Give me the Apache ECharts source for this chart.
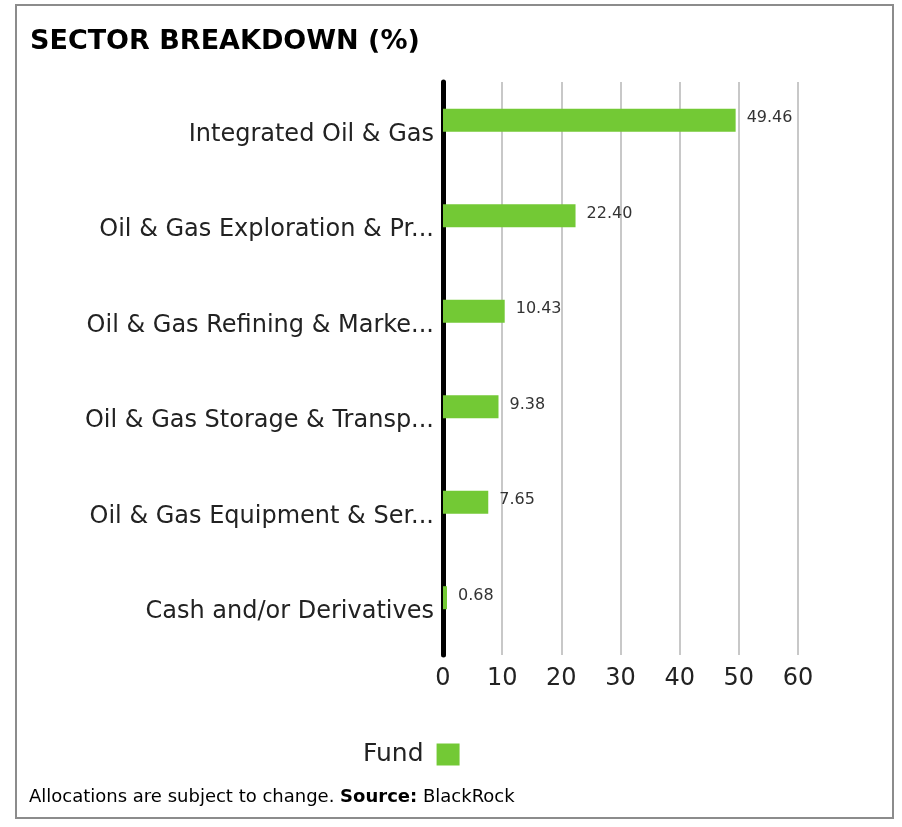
<!DOCTYPE html>
<html>
<head>
<meta charset="utf-8">
<script src="https://cdn.jsdelivr.net/npm/echarts@6/dist/echarts.min.js"></script>
<style>html,body{margin:0;padding:0;background:#fff}#c{width:902px;height:827px}</style>
</head>
<body>
<div id="c"></div>
<script>
const categories = [
  'Integrated Oil & Gas',
  'Oil & Gas Exploration & Production',
  'Oil & Gas Refining & Marketing',
  'Oil & Gas Storage & Transportation',
  'Oil & Gas Equipment & Services',
  'Cash and/or Derivatives'
];
const fundValues = [49.46, 22.40, 10.43, 9.38, 7.65, 0.68];
const benchmarkValues = [];
const xTicks = [0, 10, 20, 30, 40, 50, 60];
const titleText = 'SECTOR BREAKDOWN (%)';
const seriesName = 'Fund';

const FONT = 'DejaVu Sans';
const chart = echarts.init(document.getElementById('c'), null, {renderer: 'canvas'});
const green = '#73c935';
chart.setOption({
  backgroundColor: '#fff',
  animation: false,
  title: {
    text: titleText,
    left: 30, top: 28, padding: 0,
    textStyle: {fontFamily: FONT, fontWeight: 'bold', fontSize: 27, color: '#000'}
  },
  legend: {
    data: [seriesName],
    left: 363, top: 742, padding: 0,
    align: 'right',
    itemWidth: 23, itemHeight: 22, itemGap: 10,
    icon: 'rect',
    textStyle: {fontFamily: FONT, fontSize: 25, color: '#222', padding: [0, 8, 0, 0]}
  },
  grid: {left: 443, right: 104, top: 82, bottom: 827 - 655, containLabel: false},
  xAxis: {
    type: 'value', min: 0, max: 60, interval: 10,
    axisLine: {show: false},
    axisTick: {show: false},
    splitLine: {show: true, lineStyle: {color: '#c8c8c8', width: 2}},
    axisLabel: {
      margin: 12, fontFamily: FONT, fontSize: 24, color: '#222',
      formatter: v => xTicks.includes(v) ? String(v) : ''
    }
  },
  yAxis: {
    type: 'category', inverse: true, data: categories,
    axisLine: {show: true, lineStyle: {color: '#000', width: 5}},
    axisTick: {show: false},
    axisLabel: {
      margin: 9, fontFamily: FONT, fontSize: 24, color: '#222',
      width: 352, overflow: 'truncate', ellipsis: '...',
      formatter: v => '{a|' + v + '}',
      rich: {a: {fontFamily: FONT, fontSize: 24, color: '#222', padding: [10, 0, 0, 0]}}
    }
  },
  series: [
    {
      name: seriesName, type: 'bar', data: fundValues,
      barWidth: 23, barGap: '-17%',
      itemStyle: {color: green},
      label: {
        show: true, position: 'right', distance: 11, offset: [0, -2],
        formatter: p => p.value.toFixed(2),
        fontFamily: FONT, fontSize: 16, color: '#333'
      }
    },
    {
      name: 'Benchmark', type: 'bar', data: benchmarkValues,
      barWidth: 23, itemStyle: {color: 'transparent'}
    }
  ],
  graphic: [
    {type: 'rect', shape: {x: 16, y: 5, width: 877, height: 813},
     style: {fill: 'none', stroke: '#8c8c8c', lineWidth: 2}, silent: true, z: 100},
    {type: 'text', left: 29, top: 788,
     style: {
       text: '{n|Allocations are subject to change. }{b|Source:}{n| BlackRock}',
       rich: {
         n: {fontFamily: FONT, fontSize: 18, color: '#222'},
         b: {fontFamily: FONT, fontSize: 18, fontWeight: 'bold', color: '#111'}
       }
     }}
  ]
});
</script>
</body>
</html>
